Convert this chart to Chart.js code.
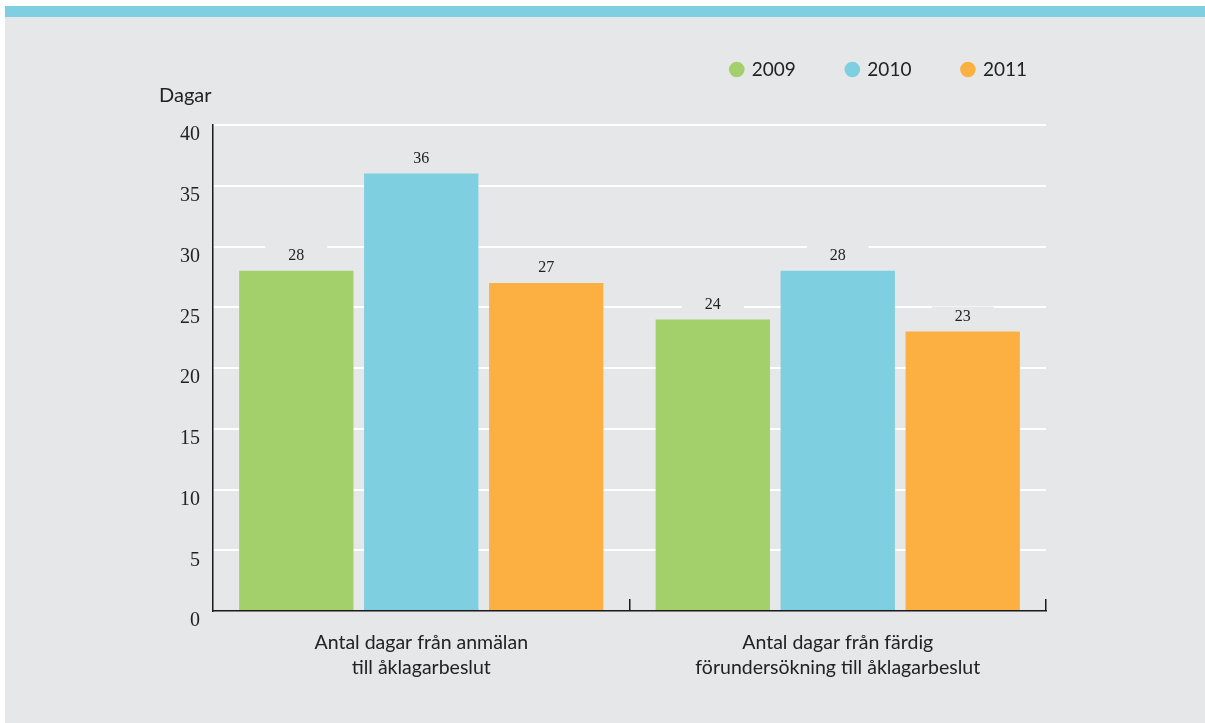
<!DOCTYPE html>
<html>
<head>
<meta charset="utf-8">
<script src="https://cdn.jsdelivr.net/npm/chart.js@4"></script>
<style>
html,body{margin:0;padding:0;background:#ffffff;}
#wrap{position:relative;width:1205px;height:723px;}
canvas{display:block;}
</style>
</head>
<body>
<div id="wrap"><canvas id="c" width="1205" height="723"></canvas></div>
<script>
const categories = [
  ["Antal dagar från anmälan", "till åklagarbeslut"],
  ["Antal dagar från färdig", "förundersökning till åklagarbeslut"]
];
const seriesNames = ["2009", "2010", "2011"];
const values2009 = [28, 24];
const values2010 = [36, 28];
const values2011 = [27, 23];
const seriesColors = ["#a3d06a", "#7ecfe0", "#fdb042"];
const yTicks = [0, 5, 10, 15, 20, 25, 30, 35, 40];
const yAxisTitle = "Dagar";

const PANEL = "#e6e7e9";
const SANS = "Lato, 'Open Sans', sans-serif";
const SERIF = "'Liberation Serif', 'DejaVu Serif', serif";
const LAYOUT_TOP = 9;

const panelPlugin = {
  id: 'panel',
  beforeInit(chart) {
    const lg = chart.legend;
    if (lg) {
      const origFit = lg.fit.bind(lg);
      lg.fit = function () {
        origFit();
        this.height = 125 - LAYOUT_TOP;
      };
    }
  },
  afterLayout(chart) {
    const lg = chart.legend;
    if (lg) {
      lg.left += 32;
      lg.right += 32;
    }
  },
  beforeDraw(chart) {
    const ctx = chart.ctx;
    ctx.save();
    ctx.fillStyle = '#ffffff';
    ctx.fillRect(0, 0, chart.width, chart.height);
    ctx.fillStyle = PANEL;
    ctx.fillRect(5, 6, chart.width - 5, chart.height - 6);
    ctx.fillStyle = '#7ecfe0';
    ctx.fillRect(5, 6, chart.width - 5, 11);
    ctx.restore();
  },
  afterDraw(chart) {
    const ctx = chart.ctx;
    const area = chart.chartArea;
    const xs = chart.scales.x;
    ctx.save();
    // y axis title
    ctx.fillStyle = '#222';
    ctx.font = "20px " + SANS;
    ctx.textAlign = 'left';
    ctx.textBaseline = 'alphabetic';
    ctx.fillText(yAxisTitle, area.left - 54, area.top - 23);
    // inner tick marks at category boundaries
    ctx.strokeStyle = '#1a1a1a';
    ctx.lineWidth = 1.5;
    const n = chart.data.labels.length;
    for (let i = 1; i <= n; i++) {
      const x = Math.round(xs.left + i * xs.width / n) - 0.25;
      ctx.beginPath();
      ctx.moveTo(x, area.bottom);
      ctx.lineTo(x, area.bottom - 12);
      ctx.stroke();
    }
    // data labels with panel-coloured backing
    ctx.font = "16px " + SERIF;
    ctx.textAlign = 'center';
    ctx.textBaseline = 'middle';
    chart.data.datasets.forEach((ds, di) => {
      const meta = chart.getDatasetMeta(di);
      meta.data.forEach((bar, i) => {
        const y = bar.y - 15;
        ctx.fillStyle = PANEL;
        ctx.fillRect(bar.x - 31, y - 10, 62, 19);
        ctx.fillStyle = '#222';
        ctx.fillText(String(ds.data[i]), bar.x, y);
      });
    });
    ctx.restore();
  }
};

const datasets = [values2009, values2010, values2011].map((vals, i) => ({
  label: seriesNames[i],
  data: vals,
  backgroundColor: seriesColors[i],
  borderWidth: 0,
  categoryPercentage: 0.90,
  barPercentage: 0.915
}));

new Chart(document.getElementById('c'), {
  type: 'bar',
  data: { labels: categories, datasets },
  plugins: [panelPlugin],
  options: {
    responsive: false,
    animation: false,
    devicePixelRatio: 1,
    layout: { padding: { left: 0, right: 159, top: LAYOUT_TOP, bottom: 0 } },
    plugins: {
      tooltip: { enabled: false },
      legend: {
        position: 'top',
        align: 'end',
        labels: {
          usePointStyle: true,
          pointStyle: 'circle',
          boxWidth: 11,
          boxHeight: 11,
          padding: 51,
          color: '#222',
          font: { family: SANS, size: 19 }
        }
      }
    },
    scales: {
      x: {
        offset: true,
        grid: { display: false, drawTicks: false },
        border: { display: true, color: '#1a1a1a', width: 1.5 },
        ticks: {
          color: '#222',
          padding: 19,
          font: { family: SANS, size: 19.5, lineHeight: 1.28 },
          maxRotation: 0
        },
        afterFit(scale) { scale.height = 112; }
      },
      y: {
        min: 0,
        max: 40,
        afterBuildTicks(scale) { scale.ticks = yTicks.map(v => ({ value: v })); },
        grid: {
          color: (c) => c.tick && c.tick.value === 0 ? 'rgba(0,0,0,0)' : '#ffffff',
          lineWidth: 2,
          drawTicks: false
        },
        border: { display: true, color: '#1a1a1a', width: 1.5 },
        ticks: {
          color: '#222',
          padding: 13,
          labelOffset: 10,
          font: { family: SERIF, size: 20 }
        },
        afterFit(scale) { scale.width = 213; }
      }
    }
  }
});
</script>
</body>
</html>
